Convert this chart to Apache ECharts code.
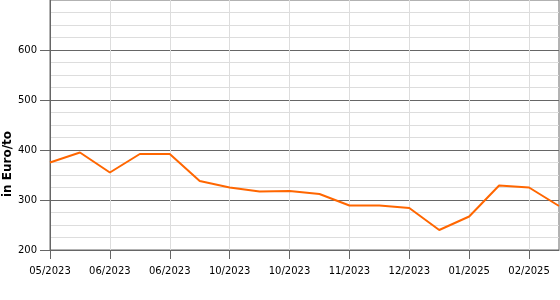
<!DOCTYPE html>
<html>
<head>
<meta charset="utf-8">
<script src="https://cdn.jsdelivr.net/npm/echarts@6/dist/echarts.min.js"></script>
<style>
html,body{margin:0;padding:0;background:#fff;}
#chart{width:560px;height:300px;}
</style>
</head>
<body>
<div id="chart"></div>
<script>
var categories = ['05/2023','','06/2023','','06/2023','','10/2023','','10/2023','','11/2023','','12/2023','','01/2025','','02/2025',''];
var prices = [375, 395, 355, 392, 392, 338, 325, 317, 318, 312, 289, 289, 284, 240, 267, 329, 325, 288];
var yTickValues = [200, 300, 400, 500, 600];
var yAxisTitle = 'in Euro/to';

var chart = echarts.init(document.getElementById('chart'), null, {renderer: 'canvas'});
chart.setOption({
  animation: false,
  backgroundColor: '#fff',
  grid: {left: 50, right: 1, top: 0, bottom: 50, show: true, borderColor: '#666', borderWidth: 1, containLabel: false},
  xAxis: {
    type: 'category',
    data: categories,
    boundaryGap: false,
    axisLine: {show: true, lineStyle: {color: '#666', width: 1}},
    axisTick: {show: true, interval: 1, length: 9, lineStyle: {color: '#666'}},
    axisLabel: {interval: 1, margin: 16, color: '#000', fontFamily: 'DejaVu Sans', fontSize: 10},
    splitLine: {show: true, interval: 1, lineStyle: {color: '#ddd', width: 1}}
  },
  yAxis: {
    type: 'value',
    min: 200,
    max: 700,
    interval: 100,
    axisLine: {show: true, lineStyle: {color: '#666', width: 1}},
    axisTick: {show: true, length: 10, customValues: yTickValues, lineStyle: {color: '#666'}},
    axisLabel: {margin: 13, color: '#000', fontFamily: 'DejaVu Sans', fontSize: 10, customValues: yTickValues},
    splitLine: {show: true, lineStyle: {color: '#666', width: 1}},
    minorTick: {show: false, splitNumber: 4},
    minorSplitLine: {show: true, lineStyle: {color: '#ddd', width: 1}}
  },
  graphic: [{
    type: 'text',
    x: 8,
    y: 164,
    rotation: Math.PI / 2,
    style: {text: yAxisTitle, font: 'bold 12px "DejaVu Sans"', fill: '#000', align: 'center', verticalAlign: 'middle'}
  }],
  series: [{
    type: 'line',
    data: prices,
    symbol: 'none',
    lineStyle: {color: '#ff6600', width: 2},
    itemStyle: {color: '#ff6600'}
  }]
});
</script>
</body>
</html>
